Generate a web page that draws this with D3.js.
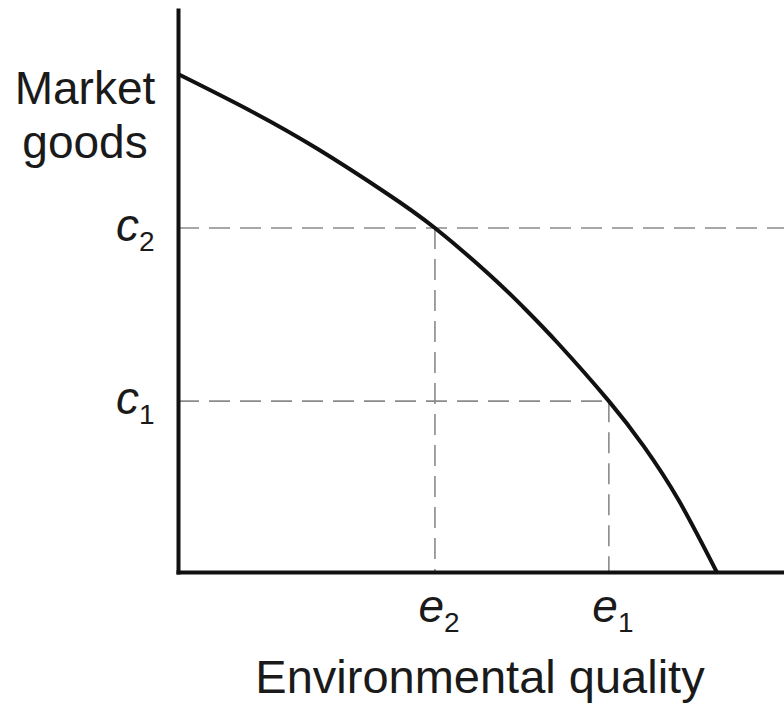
<!DOCTYPE html>
<html lang="en">
<head>
  <meta charset="UTF-8">
  <title>Market goods vs environmental quality</title>
  <script src="https://cdn.jsdelivr.net/npm/d3@7"></script>
  <style>
    body { margin: 0; background: #fff; }
    svg { display: block; }
    text { font-family: "Liberation Sans", Arial, sans-serif; fill: #1a1a1a; }
    .axis path { stroke: #111; stroke-width: 4px; fill: none; stroke-linecap: square; }
    .guide { stroke: #8a8a8a; stroke-width: 1.6px; stroke-dasharray: 21,10; fill: none; }
    .frontier { stroke: #111; stroke-width: 4px; fill: none; }
  </style>
</head>
<body>
  <svg width="784" height="704"></svg>
  <script>
    // frontier (arbitrary units, 0-100)
    var quality = [0, 11.7, 23.0, 34.4, 42.4, 51.4, 57.0, 62.7, 71.1, 76.9, 82.6, 88.9];
    var goods   = [88.6, 82.2, 75.3, 67.4, 61.2, 52.9, 47.1, 40.7, 30.4, 22.3, 12.8, 0];

    // the two marked combinations
    var eValues = [42.4, 71.1];
    var cValues = [61.2, 30.4];
    var eSubs = ["2", "1"];
    var cSubs = ["2", "1"];

    var svg = d3.select("svg"),
        margin = {top: 10, right: 0, bottom: 132, left: 178},
        width = +svg.attr("width") - margin.left - margin.right,
        height = +svg.attr("height") - margin.top - margin.bottom;

    var x = d3.scaleLinear().domain([0, 100]).range([margin.left, margin.left + width]);
    var y = d3.scaleLinear().domain([0, 100]).range([margin.top + height, margin.top]);

    var data = quality.map(function(q, i) { return {q: q, g: goods[i]}; });

    // dashed guides
    var g = svg.append("g");
    // c2 runs across the whole plot, c1 stops at the frontier
    g.append("line").attr("class", "guide")
        .attr("x1", x(0)).attr("x2", x(100))
        .attr("y1", y(cValues[0])).attr("y2", y(cValues[0]));
    g.append("line").attr("class", "guide")
        .attr("x1", x(0)).attr("x2", x(eValues[1]))
        .attr("y1", y(cValues[1])).attr("y2", y(cValues[1]));
    eValues.forEach(function(e, i) {
      g.append("line").attr("class", "guide")
          .attr("x1", x(e)).attr("x2", x(e))
          .attr("y1", y(cValues[i])).attr("y2", y(0));
    });

    // frontier curve
    var line = d3.line()
        .curve(d3.curveNatural)
        .x(function(d) { return x(d.q); })
        .y(function(d) { return y(d.g); });

    svg.append("path")
        .datum(data)
        .attr("class", "frontier")
        .attr("d", line);

    // axes
    var xAxis = svg.append("g")
        .attr("class", "axis axis--x")
        .attr("transform", "translate(0," + y(0) + ")")
        .call(d3.axisBottom(x).tickValues(eValues).tickSize(0).tickFormat(""));

    var yAxis = svg.append("g")
        .attr("class", "axis axis--y")
        .attr("transform", "translate(" + x(0) + ",0)")
        .call(d3.axisLeft(y).tickValues(cValues).tickSize(0).tickFormat(""));

    // tick labels: italic letter with subscript
    xAxis.selectAll(".tick text").each(function(d, i) {
      var t = d3.select(this)
          .attr("text-anchor", "start")
          .attr("x", -17).attr("y", 50).attr("dy", 0);
      t.append("tspan").style("font-style", "italic").style("font-size", "46px").text("e");
      t.append("tspan").style("font-size", "28px").attr("dy", 10).text(eSubs[i]);
    });

    yAxis.selectAll(".tick text").each(function(d, i) {
      var t = d3.select(this)
          .attr("text-anchor", "start")
          .attr("x", -62).attr("y", 12).attr("dy", 0);
      t.append("tspan").style("font-style", "italic").style("font-size", "46px").text("c");
      t.append("tspan").style("font-size", "28px").attr("dy", 10).text(cSubs[i]);
    });

    // axis titles
    var yTitle = svg.append("text")
        .attr("text-anchor", "middle")
        .style("font-size", "46px");
    yTitle.append("tspan").attr("x", 85).attr("y", 104).text("Market");
    yTitle.append("tspan").attr("x", 85).attr("y", 158).text("goods");

    svg.append("text")
        .attr("text-anchor", "middle")
        .attr("x", 480).attr("y", 693)
        .style("font-size", "47px")
        .text("Environmental quality");
  </script>
</body>
</html>
